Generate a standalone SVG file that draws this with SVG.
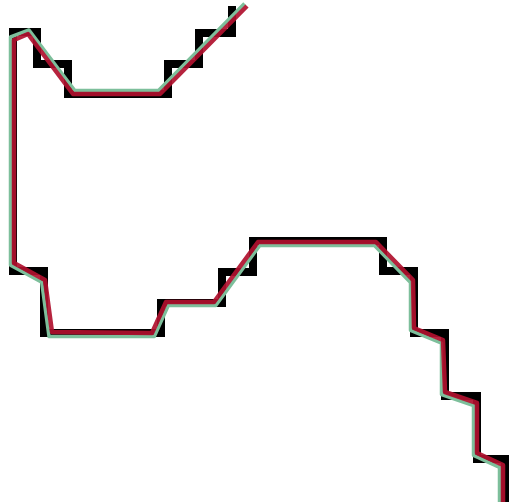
<svg xmlns="http://www.w3.org/2000/svg" width="509" height="502" viewBox="0 0 509 502">
<style>
.px{fill:none;stroke:#000;stroke-width:8;stroke-linejoin:miter;stroke-linecap:butt}
.gr{fill:none;stroke:#7dbf9b;stroke-width:3.5;stroke-linejoin:round;stroke-linecap:butt}
.rd{fill:none;stroke:#b0102e;stroke-width:4.5;stroke-linejoin:round;stroke-linecap:butt;stroke-opacity:0.92}
</style>
<rect width="509" height="502" fill="#fff"/>
<g id="pixels">
<polyline class="px" points="232,6 232,33 199,33 199,64 168,64 168,94 68,94 68,64 37,64 37,32 13,32 13,271 44,271 44,333 161,333 161,303 222,303 222,272 253,272 253,241 383,241 383,271 414,271 414,333 445,333 445,396 477,396 477,459 505,459 505,502"/>
</g>
<g id="connectors">
<polyline id="green" class="gr" points="244.5,3.5 158.5,90.5 74.8,90.5 29,30 10.5,37 10.5,265.1 41.7,282.2 49,336.5 154.3,336.5 168.3,305.5 215.8,305.5 259.8,245.5 374.5,245.5 410.5,282.5 410.5,330.3 441.5,343.1 441.5,394.5 473.5,405.5 473.5,455.3 499.5,467.3 499.5,502"/>
<polyline id="red" class="rd" points="247,6 160,94 73,94 28,34 14,40 14,263 45,280 52,332 152,333 166,302 214,302 258,242 376,242 413,280 414,328 443,340 445,392 477,403 477,453 503,465 503,502"/>
</g>
</svg>
